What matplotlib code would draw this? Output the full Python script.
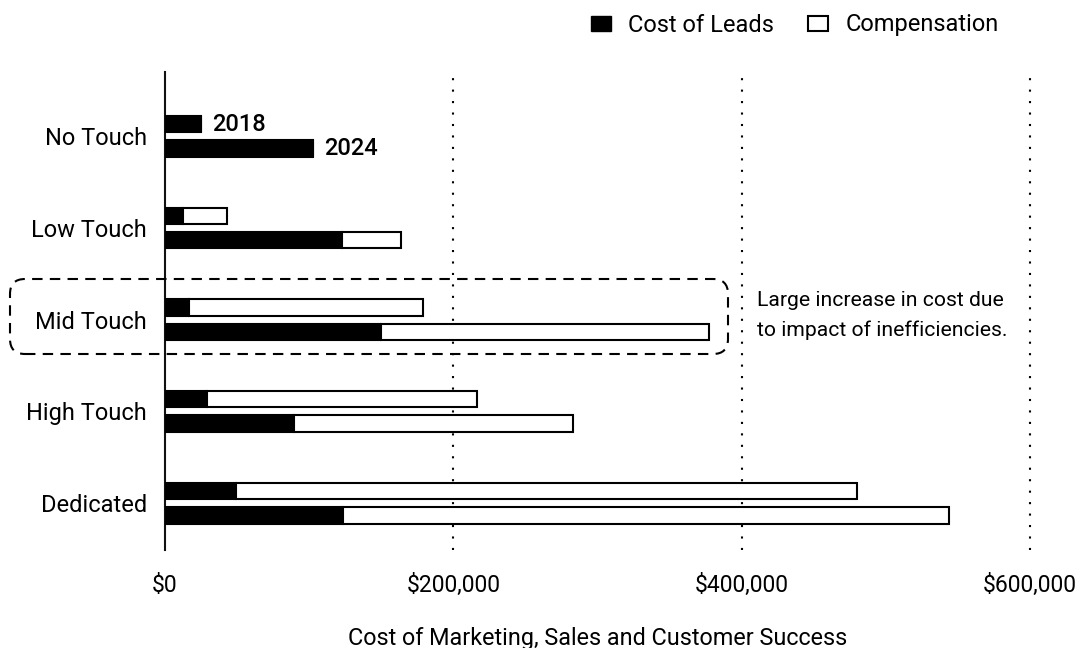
import matplotlib
matplotlib.use("Agg")
import matplotlib.pyplot as plt
import numpy as np
from matplotlib.patches import FancyBboxPatch, Patch
from matplotlib.ticker import FuncFormatter

plt.rcParams['font.family'] = ['Roboto', 'DejaVu Sans']

categories = ["No Touch", "Low Touch", "Mid Touch", "High Touch", "Dedicated"]
leads_2018 = [25000, 12700, 16700, 29400, 49500]
comp_2018 = [0, 30100, 162000, 186900, 430800]
leads_2024 = [103000, 122700, 150000, 89800, 123300]
comp_2024 = [0, 41200, 227500, 193000, 420600]
years = ["2018", "2024"]
xticks = [0, 200000, 400000, 600000]

fig = plt.figure(figsize=(10.81, 6.48), dpi=100)
ax = fig.add_axes([165/1081, 1-550/648, (1030-165)/1081, (550-72)/648])

y = np.arange(len(categories))
h = 0.178
off = 0.133
lw = 1.5

ax.barh(y - off, leads_2018, height=h, color='black', edgecolor='black', linewidth=lw, zorder=3)
ax.barh(y - off, comp_2018, left=leads_2018, height=h, color='white', edgecolor='black', linewidth=lw, zorder=3)
ax.barh(y + off, leads_2024, height=h, color='black', edgecolor='black', linewidth=lw, zorder=3)
ax.barh(y + off, comp_2024, left=leads_2024, height=h, color='white', edgecolor='black', linewidth=lw, zorder=3)

# year labels on first category
ax.annotate(years[0], (leads_2018[0] + comp_2018[0], 0 - off), xytext=(8, 0), textcoords='offset points',
            va='center', ha='left', fontsize=17, fontweight='medium')
ax.annotate(years[1], (leads_2024[0] + comp_2024[0], 0 + off), xytext=(8, 0), textcoords='offset points',
            va='center', ha='left', fontsize=17, fontweight='medium')

ax.set_xlim(0, 600000)
ax.set_ylim(4.51, -0.70)
ax.set_yticks(y)
ax.set_yticklabels(categories, fontsize=17)
ax.set_xticks(xticks)
ax.xaxis.set_major_formatter(FuncFormatter(lambda v, p: "${:,.0f}".format(v)))
ax.tick_params(axis='x', length=0, pad=17, labelsize=16.5)
ax.tick_params(axis='y', length=0, pad=13)
ax.set_xlabel("Cost of Marketing, Sales and Customer Success", fontsize=16.8)
ax.xaxis.set_label_coords(0.5, (550-627)/478)

for s in ['top', 'right', 'bottom']:
    ax.spines[s].set_visible(False)
ax.spines['left'].set_linewidth(1.5)
ax.spines['left'].set_color('#111111')

for xv in xticks[1:]:
    ax.axvline(xv, color='black', linestyle=(0, (1, 4.5)), linewidth=1.5, zorder=1, clip_on=False)

# dashed rounded box
box = FancyBboxPatch((0.10, 6.48 - 3.54), 7.18, 0.75,
                     boxstyle="round,pad=0,rounding_size=0.15",
                     transform=fig.dpi_scale_trans, fill=False,
                     edgecolor='black', linewidth=1.5, linestyle=(0, (5, 3.5)), zorder=5)
fig.patches.append(box)

fig.text(757/1081, 1-300/648, "Large increase in cost due", fontsize=15.2, va='center', ha='left')
fig.text(757/1081, 1-330/648, "to impact of inefficiencies.", fontsize=15.2, va='center', ha='left')

handles = [Patch(facecolor='black', edgecolor='black', label='Cost of Leads'),
           Patch(facecolor='white', edgecolor='black', linewidth=1.5, label='Compensation')]
fig.legend(handles=handles, loc='center right', bbox_to_anchor=(1020/1081, 1-25/648), ncol=2,
           frameon=False, fontsize=17, handlelength=0.85, handleheight=0.6, columnspacing=1.45,
           handletextpad=0.72)

fig.savefig("out.png", dpi=100)
